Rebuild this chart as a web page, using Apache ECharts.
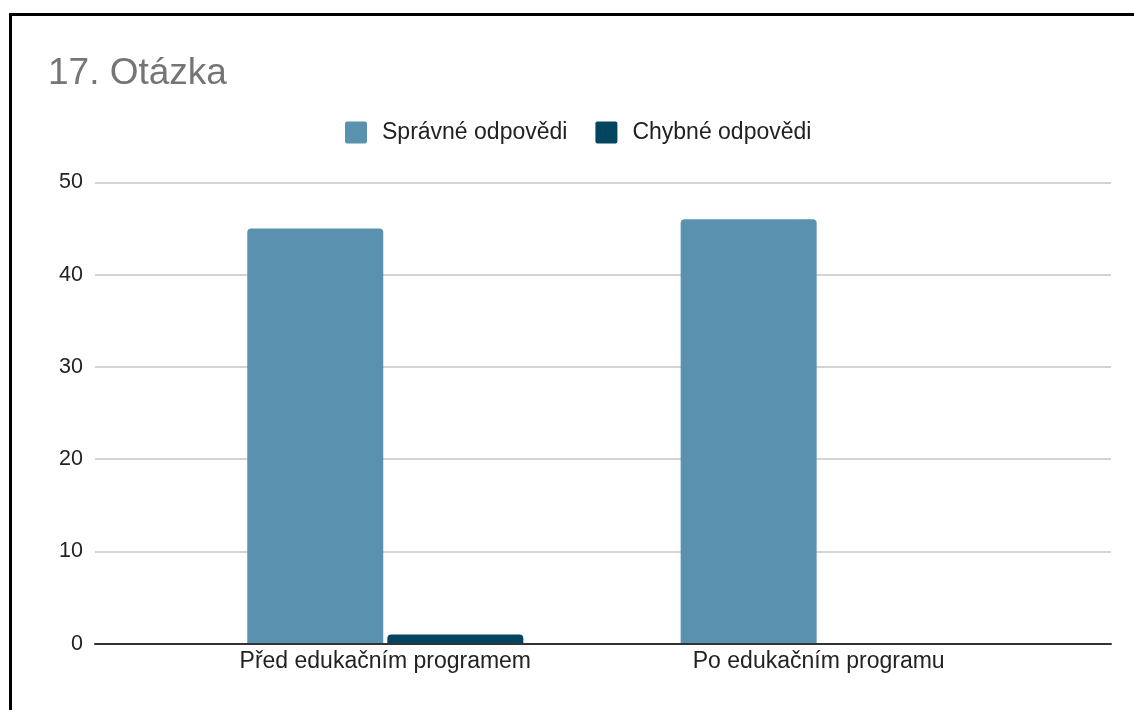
<!DOCTYPE html>
<html><head><meta charset="utf-8">
<script src="https://cdn.jsdelivr.net/npm/echarts@6/dist/echarts.min.js"></script>
<style>html,body{margin:0;padding:0;background:#fff}#c{width:1134px;height:710px}</style>
</head><body><div id="c"></div>
<script>
const titleText = "17. Otázka";
const categories = ["Před edukačním programem", "Po edukačním programu"];
const seriesNames = ["Správné odpovědi", "Chybné odpovědi"];
const correct = [45, 46];
const wrong = [1, 0];
const yTicks = { min: 0, max: 50, interval: 10 };
const colors = ["#5a91ae", "#03455f"];

const font = "Arial, 'Liberation Sans', sans-serif";
const chart = echarts.init(document.getElementById('c'));
chart.setOption({
  animation: false,
  color: colors,
  title: { text: titleText, left: 43, top: 50,
    textStyle: { fontFamily: font, fontSize: 37, fontWeight: 'normal', color: '#757575' } },
  legend: { left: 340, top: 116, itemWidth: 22, itemHeight: 22, itemGap: 28,
    icon: 'path://M2,0H20A2,2,0,0,1,22,2V20A2,2,0,0,1,20,22H2A2,2,0,0,1,0,20V2A2,2,0,0,1,2,0Z',
    data: seriesNames,
    textStyle: { fontFamily: font, fontSize: 23, color: '#222', padding: [0,0,0,10] } },
  graphic: [{ type: 'polyline', silent: true, z: 100,
    shape: { points: [[10.5, 710], [10.5, 14.5], [1134, 14.5]] },
    style: { stroke: '#000', lineWidth: 3, fill: null } }],
  grid: [
    { left: 95, right: 23, top: 182.3, bottom: 66.3 },
    { left: 168.6, right: 98.6, top: 182.3, bottom: 66.3 }
  ],
  xAxis: [
    { gridIndex: 0, type: 'category', data: categories, axisTick: { show: false },
      axisLabel: { show: false },
      axisLine: { show: true, lineStyle: { color: '#333', width: 2 } }, z: 10 },
    { gridIndex: 1, type: 'category', data: categories, axisTick: { show: false },
      axisLine: { show: false },
      axisLabel: { fontFamily: font, fontSize: 23, color: '#222', margin: 6 } }
  ],
  yAxis: [
    { gridIndex: 0, type: 'value', min: yTicks.min, max: yTicks.max, interval: yTicks.interval,
      axisLine: { show: false }, axisTick: { show: false },
      axisLabel: { fontFamily: font, fontSize: 21.5, color: '#222', margin: 12 },
      splitLine: { lineStyle: { color: '#d4d4d4', width: 2 } } },
    { gridIndex: 1, type: 'value', min: yTicks.min, max: yTicks.max, interval: yTicks.interval,
      show: false, splitLine: { show: false } }
  ],
  series: [
    { name: seriesNames[0], type: 'bar', xAxisIndex: 1, yAxisIndex: 1, data: correct,
      barWidth: 136, barGap: '3%', itemStyle: { borderRadius: [4,4,0,0] } },
    { name: seriesNames[1], type: 'bar', xAxisIndex: 1, yAxisIndex: 1, data: wrong,
      barWidth: 136, barGap: '3%', itemStyle: { borderRadius: [4,4,0,0] } }
  ]
});
</script></body></html>
